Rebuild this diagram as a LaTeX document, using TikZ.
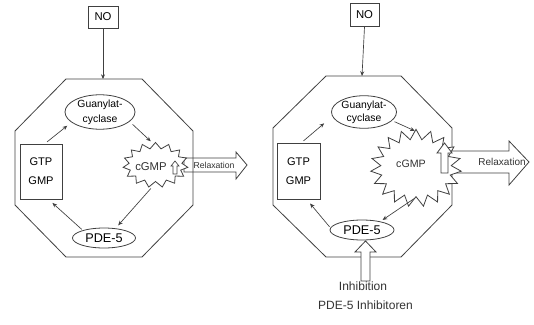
\documentclass[tikz,border=0pt]{standalone}
\usepackage{fontspec}
\setmainfont{Liberation Sans}
\usetikzlibrary{shapes.geometric,shapes.symbols,arrows.meta}
\begin{document}
\begin{tikzpicture}[x=0.75pt,y=-0.75pt,
  ln/.style={draw=black!75,line width=0.6pt},
  box/.style={draw=black!75,rectangle,inner sep=0pt,line width=0.6pt},
  oval/.style={draw=black!75,ellipse,inner sep=0pt,line width=0.6pt},
  burst/.style={draw=black!75,fill=white,starburst,random starburst=0,inner sep=0pt,line width=0.6pt},
  label/.style={inner sep=0pt,text=black!80},
  conn/.style={-{Stealth[length=3.5pt,width=3pt]},line width=0.5pt,draw=black!75},
  blockarr/.style={draw=black!75,fill=white,line width=0.6pt,line join=miter}]
\useasboundingbox (0,0) rectangle (534,324);

% ================= left diagram =================
\node[box,minimum width=22.5pt,minimum height=16.5pt,font=\fontsize{8.5}{10}\selectfont] (noL) at (103,17) {NO};
\coordinate (topL) at (103,79);
\draw[conn] (noL.south) -- (topL);

\node[oval,minimum width=52.5pt,minimum height=23.25pt,font=\fontsize{7.8}{11}\selectfont,align=center] (guaL) at (100,112) {Guanylat-\\cyclase};
\node[box,minimum width=31.5pt,minimum height=41.25pt,font=\fontsize{8.3}{14.25}\selectfont,align=center] (gtpL) at (41,171.5) {GTP\\GMP};
\node[oval,minimum width=47.25pt,minimum height=15pt,font=\fontsize{9.5}{11}\selectfont] (pdeL) at (104,238) {PDE-5};

% relaxation arrow (left)
\draw[blockarr] (184,158) -- (236,158) -- (236,152) -- (247,165) -- (236,179) -- (236,172) -- (184,172) -- cycle;
\node[label,font=\fontsize{6.5}{7}\selectfont] (relL) at (214,165) {Relaxation};

\node[burst,minimum width=48.75pt,minimum height=33.75pt,starburst points=15,starburst point height=4.5pt] (cgmpL) at (155.5,165) {};
\node[label,font=\fontsize{8.5}{10}\selectfont] (cgtL) at (151,167) {cGMP};
\draw[blockarr,line width=0.5pt] (173,174) -- (173,166) -- (171,166) -- (175,161) -- (179,166) -- (177,166) -- (177,174) -- cycle;

\draw[ln] (66,79) -- (142,79) -- (193,131) -- (193,205) -- (142,257) -- (66,257) -- (15,205) -- (15,131) -- cycle;

\draw[conn,shorten <=2pt,shorten >=4pt] (gtpL.82) -- (guaL.200);
\draw[conn,shorten <=3pt,shorten >=3pt] (guaL.-18) -- (cgmpL.95);
\draw[conn,shorten <=6pt,shorten >=3pt] (cgmpL.-88) -- (pdeL.40);
\draw[conn,shorten <=1pt,shorten >=4pt] (pdeL.160) -- (gtpL.-75);

% ================= right diagram =================
\node[box,minimum width=21.75pt,minimum height=17.25pt,font=\fontsize{8.5}{10}\selectfont] (noR) at (364.5,15) {NO};
\coordinate (topR) at (362,76);
\draw[conn] (noR.south) -- (topR);

\draw[ln] (326,76) -- (401,76) -- (452,128) -- (452,205) -- (401,257) -- (326,257) -- (273,205) -- (273,128) -- cycle;

\node[oval,fill=white,minimum width=48.75pt,minimum height=19.5pt,font=\fontsize{7.8}{10}\selectfont,align=center] (guaR) at (364,112) {Guanylat-\\cyclase};
\node[box,minimum width=32.25pt,minimum height=42pt,font=\fontsize{8.3}{14.25}\selectfont,align=center] (gtpR) at (298.5,171) {GTP\\GMP};
\node[oval,fill=white,minimum width=48pt,minimum height=15pt,font=\fontsize{9.5}{11}\selectfont] (pdeR) at (362,230) {PDE-5};

% relaxation arrow (right)
\draw[blockarr] (448,151) -- (509,151) -- (509,141) -- (529,162) -- (509,185) -- (509,173) -- (448,173) -- cycle;
\node[label,font=\fontsize{7.5}{8}\selectfont] (relR) at (502,162) {Relaxation};

\node[burst,minimum width=68pt,minimum height=58pt,starburst points=19,starburst point height=7.5pt] (cgmpR) at (416,168) {};
\node[label,font=\fontsize{8}{10}\selectfont] (cgtR) at (411,164) {cGMP};
\draw[blockarr] (441,173) -- (441,153) -- (437,153) -- (444.5,143) -- (452,153) -- (448,153) -- (448,173) -- cycle;

% inhibition arrow
\draw[blockarr] (361,281) -- (361,252) -- (355,252) -- (365.5,241) -- (376,252) -- (370,252) -- (370,281) -- cycle;
\node[label,font=\fontsize{9}{10}\selectfont] (inh1) at (363,286) {Inhibition};
\node[label,font=\fontsize{9}{10}\selectfont] (inh2) at (365.5,305) {PDE-5 Inhibitoren};

\draw[conn,shorten <=2pt,shorten >=8pt] (gtpR.84) -- (guaR.188);
\draw[conn,shorten <=2pt,shorten >=0pt] (guaR.-17) -- (cgmpR.92);
\draw[conn,shorten <=1pt,shorten >=2pt] (cgmpR.-90) -- (pdeR.25);
\draw[conn,shorten <=1pt,shorten >=4pt] (pdeR.176) -- (gtpR.-74);
\end{tikzpicture}
\end{document}
